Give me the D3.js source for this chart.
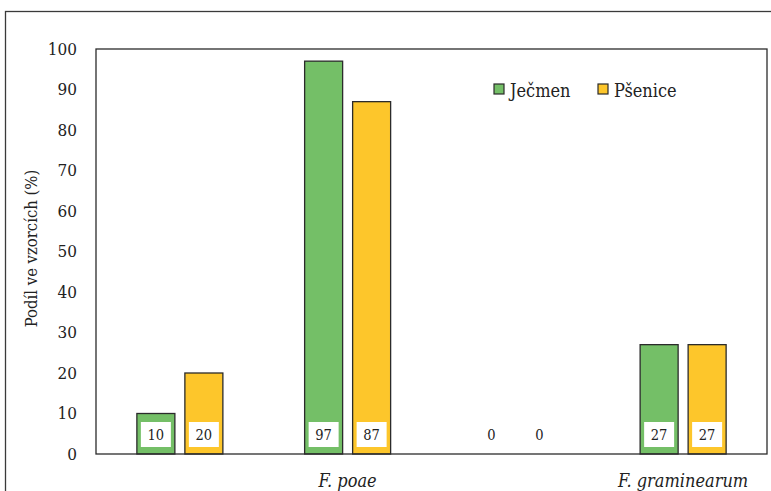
<!DOCTYPE html>
<html>
<head>
<meta charset="utf-8">
<script src="https://cdn.jsdelivr.net/npm/d3@7"></script>
<style>
  body { margin: 0; background: #fff; }
  #chart text {
    font-family: "DejaVu Serif Condensed", "DejaVu Serif", serif;
    font-stretch: condensed;
  }
</style>
</head>
<body>
<svg id="chart" width="771" height="491"></svg>
<script>
// Share of samples per Fusarium species, barley vs. wheat
const categories = ["", "F. poae", "", "F. graminearum"];
const seriesNames = ["Ječmen", "Pšenice"];
const barley = [10, 97, 0, 27];
const wheat = [20, 87, 0, 27];
const yTicks = [0, 10, 20, 30, 40, 50, 60, 70, 80, 90, 100];
const colors = ["#74bf67", "#fdc62b"];

const svg = d3.select("#chart");
const W = 771, H = 491;
const plot = { left: 96, top: 49, right: 767, bottom: 454 };
const ink = "#222";

// outer frame (extends past the visible area on right and bottom)
svg.append("rect")
  .attr("x", 5.5).attr("y", 11.5)
  .attr("width", W + 20).attr("height", H + 20)
  .attr("fill", "none").attr("stroke", "#3a3a3a").attr("stroke-width", 1.3);

const x0 = d3.scaleBand()
  .domain(d3.range(categories.length))
  .range([plot.left, plot.right]);

const y = d3.scaleLinear().domain([0, 100]).range([plot.bottom, plot.top]);

const barW = 38, gap = 10;
const data = categories.map((c, i) => ({ i, values: [barley[i], wheat[i]] }));

// bars with boxed value labels near the baseline
const groups = svg.append("g").selectAll("g").data(data).join("g");
groups.each(function (d) {
  const cx = x0(d.i) + x0.bandwidth() / 2;
  const g = d3.select(this);
  d.values.forEach((v, s) => {
    const bx = s === 0 ? cx - gap / 2 - barW : cx + gap / 2;
    if (v > 0) {
      g.append("rect")
        .attr("x", bx).attr("y", y(v))
        .attr("width", barW).attr("height", y(0) - y(v))
        .attr("fill", colors[s]).attr("stroke", "#2b2b2b").attr("stroke-width", 1.3);
      g.append("rect")
        .attr("x", bx + barW / 2 - 15).attr("y", plot.bottom - 32)
        .attr("width", 30).attr("height", 25)
        .attr("fill", "#fff");
    }
    g.append("text")
      .attr("x", bx + barW / 2).attr("y", plot.bottom - 14)
      .attr("text-anchor", "middle")
      .attr("font-size", 14.5).attr("fill", ink)
      .text(v);
  });
});

// plot frame
svg.append("rect")
  .attr("x", plot.left).attr("y", plot.top)
  .attr("width", plot.right - plot.left).attr("height", plot.bottom - plot.top)
  .attr("fill", "none").attr("stroke", "#2b2b2b").attr("stroke-width", 1.3);

// y axis
const yAxis = d3.axisLeft(y).tickValues(yTicks).tickSize(0).tickPadding(19);
const ya = svg.append("g").attr("transform", `translate(${plot.left},0)`).call(yAxis);
ya.attr("font-family", null);
ya.select(".domain").remove();
ya.selectAll("text")
  .attr("font-size", 17).attr("fill", ink);

// y axis title
svg.append("text")
  .attr("transform", `translate(37,${(plot.top + plot.bottom) / 2 - 3}) rotate(-90)`)
  .attr("text-anchor", "middle")
  .attr("font-size", 16.5).attr("fill", ink)
  .text("Podíl ve vzorcích (%)");

// category labels
svg.append("g").selectAll("text").data(categories).join("text")
  .attr("x", (d, i) => x0(i) + x0.bandwidth() / 2)
  .attr("y", 487)
  .attr("text-anchor", "middle")
  .attr("font-size", 18).attr("font-style", "italic").attr("fill", ink)
  .text(d => d);

// legend
const legend = svg.append("g");
const legendX = [494, 598];
seriesNames.forEach((name, s) => {
  legend.append("rect")
    .attr("x", legendX[s]).attr("y", 84)
    .attr("width", 10).attr("height", 10)
    .attr("fill", colors[s]).attr("stroke", "#2b2b2b").attr("stroke-width", 1.2);
  legend.append("text")
    .attr("x", legendX[s] + 16).attr("y", 97)
    .attr("font-size", 18).attr("fill", ink)
    .text(name);
});
</script>
</body>
</html>
